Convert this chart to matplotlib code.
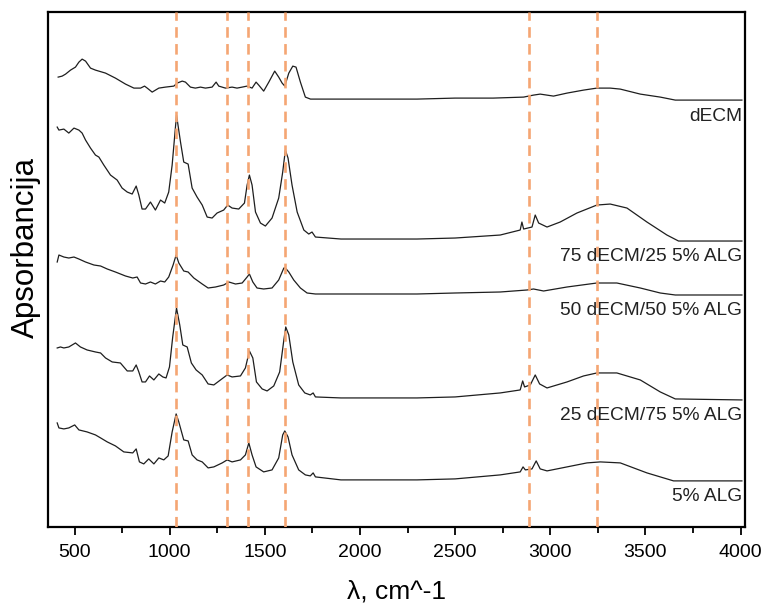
import matplotlib
matplotlib.use("Agg")
import matplotlib.pyplot as plt
from matplotlib.ticker import MultipleLocator

plt.rcParams['font.family'] = ['Liberation Sans', 'DejaVu Sans']

# wavenumber (cm^-1) / absorbance (a.u., stacked)
decm_x = [414, 435, 453, 479, 505, 523, 540, 558, 584, 610,
          663, 715, 768, 812, 847, 868, 882, 908, 943, 978,
          1022, 1039, 1066, 1083, 1109, 1135, 1162, 1188, 1223, 1244,
          1258, 1293, 1328, 1354, 1381, 1407, 1433, 1454, 1468, 1494,
          1521, 1552, 1573, 1591, 1605, 1626, 1647, 1664, 1687, 1713,
          1740, 1766, 1900, 2100, 2300, 2500, 2700, 2860, 2912, 2947,
          3017, 3088, 3175, 3245, 3315, 3368, 3473, 3578, 3657, 3800,
          4007]
decm_y = [4.50, 4.51, 4.53, 4.57, 4.60, 4.65, 4.68, 4.66, 4.59, 4.57,
          4.54, 4.49, 4.43, 4.39, 4.39, 4.41, 4.39, 4.35, 4.39, 4.40,
          4.41, 4.44, 4.46, 4.45, 4.40, 4.39, 4.40, 4.39, 4.40, 4.45,
          4.41, 4.39, 4.40, 4.39, 4.40, 4.41, 4.39, 4.45, 4.42, 4.36,
          4.45, 4.56, 4.50, 4.44, 4.41, 4.54, 4.61, 4.60, 4.45, 4.30,
          4.28, 4.28, 4.28, 4.28, 4.28, 4.29, 4.29, 4.30, 4.32, 4.33,
          4.31, 4.34, 4.37, 4.39, 4.39, 4.38, 4.33, 4.30, 4.27, 4.27,
          4.27]

d75_x = [409, 418, 444, 470, 497, 523, 540, 558, 584, 610,
         628, 654, 689, 724, 750, 777, 803, 824, 838, 855,
         873, 899, 925, 952, 974, 995, 1013, 1030, 1036, 1057,
         1074, 1097, 1118, 1144, 1171, 1197, 1223, 1249, 1284, 1305,
         1328, 1363, 1393, 1407, 1419, 1433, 1451, 1477, 1503, 1538,
         1573, 1594, 1608, 1622, 1643, 1670, 1705, 1731, 1748, 1766,
         1900, 2100, 2300, 2500, 2737, 2842, 2851, 2860, 2904, 2921,
         2939, 2983, 3052, 3140, 3245, 3315, 3403, 3508, 3613, 3674,
         4007]
d75_y = [4.00, 3.97, 3.98, 3.94, 3.99, 3.97, 3.94, 3.87, 3.79, 3.72,
         3.70, 3.62, 3.52, 3.47, 3.39, 3.35, 3.33, 3.41, 3.32, 3.18,
         3.18, 3.25, 3.17, 3.27, 3.24, 3.35, 3.62, 3.99, 4.12, 3.85,
         3.65, 3.63, 3.39, 3.30, 3.22, 3.10, 3.09, 3.14, 3.17, 3.22,
         3.19, 3.18, 3.24, 3.42, 3.52, 3.42, 3.15, 3.04, 3.01, 3.09,
         3.29, 3.55, 3.77, 3.69, 3.42, 3.15, 2.97, 2.93, 2.95, 2.90,
         2.88, 2.88, 2.88, 2.89, 2.92, 2.97, 3.05, 2.98, 3.00, 3.12,
         3.04, 3.00, 3.05, 3.14, 3.22, 3.23, 3.19, 3.05, 2.92, 2.86,
         2.86]

d50_x = [409, 418, 444, 470, 497, 523, 558, 602, 637, 672,
         715, 768, 806, 829, 847, 873, 899, 925, 952, 974,
         995, 1018, 1034, 1048, 1074, 1097, 1127, 1171, 1202, 1241,
         1284, 1311, 1346, 1381, 1407, 1419, 1437, 1459, 1494, 1538,
         1573, 1600, 1608, 1626, 1652, 1687, 1722, 1766, 1900, 2100,
         2300, 2500, 2737, 2878, 2912, 2965, 3088, 3245, 3350, 3473,
         3578, 3657, 4007]
d50_y = [2.65, 2.72, 2.70, 2.69, 2.70, 2.68, 2.65, 2.62, 2.61, 2.58,
         2.55, 2.51, 2.49, 2.50, 2.44, 2.43, 2.45, 2.43, 2.46, 2.45,
         2.50, 2.62, 2.72, 2.64, 2.56, 2.55, 2.49, 2.43, 2.39, 2.40,
         2.42, 2.45, 2.43, 2.44, 2.50, 2.53, 2.45, 2.39, 2.38, 2.39,
         2.47, 2.59, 2.59, 2.55, 2.47, 2.39, 2.34, 2.33, 2.33, 2.33,
         2.33, 2.34, 2.35, 2.37, 2.38, 2.36, 2.40, 2.44, 2.44, 2.39,
         2.34, 2.32, 2.32]

d25_x = [409, 426, 444, 470, 505, 531, 566, 610, 637, 663,
         698, 741, 777, 806, 824, 838, 855, 873, 894, 917,
         943, 964, 981, 999, 1016, 1036, 1053, 1069, 1092, 1114,
         1139, 1171, 1202, 1232, 1267, 1302, 1328, 1372, 1398, 1419,
         1437, 1456, 1486, 1512, 1547, 1578, 1600, 1610, 1626, 1647,
         1678, 1710, 1739, 1754, 1766, 1900, 2100, 2300, 2500, 2737,
         2842, 2855, 2865, 2895, 2921, 2944, 2983, 3088, 3175, 3245,
         3350, 3473, 3578, 3657, 4007]
d25_y = [1.79, 1.80, 1.79, 1.80, 1.84, 1.80, 1.77, 1.75, 1.74, 1.69,
         1.65, 1.64, 1.56, 1.56, 1.62, 1.55, 1.45, 1.45, 1.51, 1.47,
         1.53, 1.50, 1.49, 1.60, 1.90, 2.19, 2.02, 1.82, 1.80, 1.64,
         1.57, 1.52, 1.43, 1.42, 1.47, 1.52, 1.50, 1.51, 1.59, 1.76,
         1.69, 1.45, 1.38, 1.36, 1.41, 1.55, 1.87, 2.00, 1.92, 1.65,
         1.42, 1.34, 1.32, 1.34, 1.30, 1.29, 1.29, 1.29, 1.30, 1.34,
         1.37, 1.46, 1.40, 1.42, 1.52, 1.43, 1.39, 1.45, 1.51, 1.54,
         1.54, 1.47, 1.35, 1.28, 1.27]

alg_x = [409, 418, 444, 470, 501, 523, 566, 610, 637, 672,
         715, 759, 806, 824, 841, 864, 890, 917, 943, 969,
         992, 1013, 1034, 1048, 1074, 1097, 1118, 1144, 1171, 1202,
         1232, 1276, 1302, 1328, 1372, 1398, 1416, 1433, 1454, 1494,
         1538, 1573, 1594, 1605, 1622, 1643, 1678, 1713, 1739, 1754,
         1766, 1900, 2100, 2300, 2500, 2737, 2842, 2857, 2869, 2904,
         2926, 2947, 2983, 3088, 3193, 3263, 3368, 3508, 3648, 4007]
alg_y = [1.04, 0.99, 0.98, 0.99, 1.02, 0.97, 0.95, 0.92, 0.89, 0.85,
         0.81, 0.75, 0.74, 0.78, 0.65, 0.63, 0.68, 0.63, 0.69, 0.67,
         0.71, 0.95, 1.13, 1.05, 0.87, 0.86, 0.72, 0.67, 0.65, 0.59,
         0.60, 0.64, 0.67, 0.65, 0.67, 0.72, 0.84, 0.72, 0.60, 0.55,
         0.57, 0.69, 0.92, 0.96, 0.90, 0.72, 0.57, 0.52, 0.51, 0.54,
         0.50, 0.47, 0.47, 0.47, 0.48, 0.52, 0.55, 0.60, 0.57, 0.58,
         0.66, 0.58, 0.56, 0.60, 0.64, 0.65, 0.64, 0.54, 0.46, 0.46]

labels = ['dECM', '75 dECM/25 5% ALG', '50 dECM/50 5% ALG',
          '25 dECM/75 5% ALG', '5% ALG']
band_positions = [1035, 1300, 1410, 1605, 2890, 3245]

series = [(decm_x, decm_y), (d75_x, d75_y), (d50_x, d50_y),
          (d25_x, d25_y), (alg_x, alg_y)]

fig = plt.figure(figsize=(7.66, 6.07), dpi=100)
ax = fig.add_axes([0.063, 0.132, 0.910, 0.848])

for (xs, ys), name in zip(series, labels):
    ax.plot(xs, ys, color='#1e1e1e', lw=0.9, zorder=2)
    # label sits just under the right end of each spectrum
    ax.annotate(name, xy=(xs[-1], ys[-1]), xytext=(0, -11.5),
                textcoords='offset points', ha='right', va='center',
                fontsize=13.8, color='#222222')

for b in band_positions:
    ax.axvline(b, color='#F5A673', lw=1.9, dashes=(4, 2.4), zorder=3)

ax.set_xlim(362, 4025)
ax.set_ylim(0, 5.15)
ax.xaxis.set_major_locator(MultipleLocator(500))
ax.xaxis.set_minor_locator(MultipleLocator(250))
ax.tick_params(axis='x', which='major', direction='out', length=6, width=1.3,
               labelsize=14, pad=6)
ax.tick_params(axis='x', which='minor', direction='out', length=4, width=1.3)
ax.set_yticks([])
for s in ax.spines.values():
    s.set_linewidth(1.6)

ax.set_xlabel('λ, cm^-1', fontsize=19, labelpad=14)
ax.set_ylabel('Apsorbancija', fontsize=22.5)
ax.yaxis.set_label_coords(-0.010, 0.542)

fig.savefig('out.png', dpi=100)
